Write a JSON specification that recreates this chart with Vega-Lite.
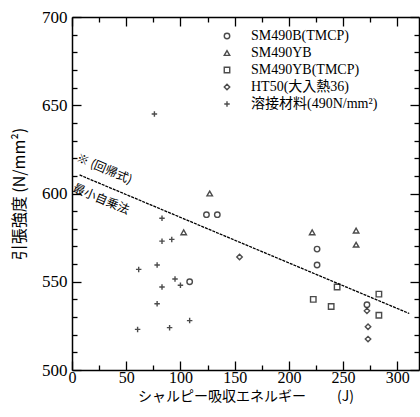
{
  "$schema": "https://vega.github.io/schema/vega-lite/v6.json",
  "width": 347,
  "height": 353,
  "autosize": {"type": "none"},
  "padding": {"left": 72, "top": 17, "right": 1, "bottom": 47},
  "background": "white",
  "config": {
    "view": {"stroke": null},
    "font": "Liberation Serif",
    "axis": {"grid": false, "domainColor": "black", "domainWidth": 1.5, "tickColor": "black", "tickWidth": 1.3, "labelColor": "black", "titleColor": "black", "labelFont": "Liberation Serif", "titleFont": "Noto Sans CJK JP"}
  },
  "datasets": {
    "pts": [
      {"s": "SM490B(TMCP)", "e": 124, "t": 588},
      {"s": "SM490B(TMCP)", "e": 134, "t": 588},
      {"s": "SM490B(TMCP)", "e": 226, "t": 568.5},
      {"s": "SM490B(TMCP)", "e": 226, "t": 559.5},
      {"s": "SM490B(TMCP)", "e": 108.5, "t": 550},
      {"s": "SM490B(TMCP)", "e": 272, "t": 537},
      {"s": "SM490YB", "e": 127, "t": 600},
      {"s": "SM490YB", "e": 103, "t": 578},
      {"s": "SM490YB", "e": 221.5, "t": 578},
      {"s": "SM490YB", "e": 262, "t": 579},
      {"s": "SM490YB", "e": 262, "t": 571},
      {"s": "SM490YB(TMCP)", "e": 244.5, "t": 547},
      {"s": "SM490YB(TMCP)", "e": 222.5, "t": 540},
      {"s": "SM490YB(TMCP)", "e": 239, "t": 536},
      {"s": "SM490YB(TMCP)", "e": 283, "t": 543},
      {"s": "SM490YB(TMCP)", "e": 283, "t": 531},
      {"s": "HT50(大入熱36)", "e": 154.5, "t": 564},
      {"s": "HT50(大入熱36)", "e": 272, "t": 533.5},
      {"s": "HT50(大入熱36)", "e": 273, "t": 524.5},
      {"s": "HT50(大入熱36)", "e": 273, "t": 517.5},
      {"s": "溶接材料(490N/mm²)", "e": 76, "t": 645},
      {"s": "溶接材料(490N/mm²)", "e": 83, "t": 586},
      {"s": "溶接材料(490N/mm²)", "e": 83, "t": 573},
      {"s": "溶接材料(490N/mm²)", "e": 92, "t": 574},
      {"s": "溶接材料(490N/mm²)", "e": 61.5, "t": 557},
      {"s": "溶接材料(490N/mm²)", "e": 78.5, "t": 559.5},
      {"s": "溶接材料(490N/mm²)", "e": 95, "t": 551.6},
      {"s": "溶接材料(490N/mm²)", "e": 100, "t": 548},
      {"s": "溶接材料(490N/mm²)", "e": 83, "t": 547},
      {"s": "溶接材料(490N/mm²)", "e": 78.5, "t": 537.5},
      {"s": "溶接材料(490N/mm²)", "e": 108.5, "t": 528},
      {"s": "溶接材料(490N/mm²)", "e": 60.5, "t": 523},
      {"s": "溶接材料(490N/mm²)", "e": 90, "t": 524}
    ],
    "fit": [
      {"e": 7, "t": 610.5},
      {"e": 311, "t": 532}
    ],
    "notes": [
      {"e": 5, "t": 620.5, "label": "※ (回帰式)"},
      {"e": 1.5, "t": 603.5, "label": "最小自乗法"}
    ]
  },
  "resolve": {"axis": {"x": "independent", "y": "independent"}},
  "layer": [
    {
      "data": {"name": "pts"},
      "mark": {"type": "point", "filled": false, "strokeWidth": 1.4, "size": 30, "color": "black"},
      "encoding": {
        "x": {"field": "e", "type": "quantitative", "scale": {"domain": [0, 320], "nice": false, "zero": false},
          "axis": {"orient": "bottom", "values": [0, 50, 100, 150, 200, 250, 300], "tickSize": -9, "labelFontSize": 16, "labelPadding": 8, "labelFlush": false,
            "title": "シャルピー吸収エネルギー　　 (J)", "titleFontSize": 14, "titleFontWeight": "normal", "titlePadding": 4}},
        "y": {"field": "t", "type": "quantitative", "scale": {"domain": [500, 700], "nice": false, "zero": false},
          "axis": {"orient": "left", "values": [500, 550, 600, 650, 700], "tickSize": -9, "labelFontSize": 17, "labelPadding": 14, "labelFlush": false,
            "title": "引張強度 (N/mm²)", "titleFontSize": 16, "titleFontWeight": "normal", "titlePadding": 14}},
        "shape": {"field": "s", "type": "nominal",
          "scale": {"domain": ["SM490B(TMCP)", "SM490YB", "SM490YB(TMCP)", "HT50(大入熱36)", "溶接材料(490N/mm²)"],
            "range": ["circle", "triangle-up", "square", "diamond", "M-1,0L1,0M0,-1L0,1"]},
          "legend": {"title": null, "orient": "none", "legendX": 148, "legendY": 12, "padding": 0, "labelFontSize": 14, "labelFont": "Liberation Serif, Noto Sans CJK JP", "labelColor": "black", "labelOffset": 17, "rowPadding": 3, "symbolSize": 30, "symbolStrokeColor": "black", "symbolStrokeWidth": 1.4, "symbolFillColor": "transparent", "labelLimit": 300}}
      }
    },
    {
      "data": {"name": "fit"},
      "mark": {"type": "line", "color": "black", "strokeWidth": 1.3, "strokeDash": [3, 1]},
      "encoding": {
        "x": {"field": "e", "type": "quantitative", "scale": {"domain": [0, 320], "nice": false, "zero": false},
          "axis": {"orient": "top", "values": [0, 25, 50, 75, 100, 125, 150, 175, 200, 225, 250, 275, 300], "tickSize": {"expr": "datum.value % 50 === 0 ? -9 : -5"}, "labels": false, "title": null}},
        "y": {"field": "t", "type": "quantitative", "scale": {"domain": [500, 700], "nice": false, "zero": false},
          "axis": {"orient": "right", "values": [500, 510, 520, 530, 540, 550, 560, 570, 580, 590, 600, 610, 620, 630, 640, 650, 660, 670, 680, 690, 700], "tickSize": {"expr": "datum.value % 50 === 0 ? -9 : -5"}, "labels": false, "title": null}}
      }
    },
    {
      "data": {"name": "pts"},
      "mark": {"type": "point", "opacity": 0},
      "encoding": {
        "x": {"field": "e", "type": "quantitative", "scale": {"domain": [0, 320], "nice": false, "zero": false},
          "axis": {"orient": "bottom", "offset": 0, "values": [25, 75, 125, 175, 225, 275], "tickSize": -5, "labels": false, "domain": false, "title": null}},
        "y": {"field": "t", "type": "quantitative", "scale": {"domain": [500, 700], "nice": false, "zero": false},
          "axis": {"orient": "left", "offset": 0, "values": [510, 520, 530, 540, 560, 570, 580, 590, 610, 620, 630, 640, 660, 670, 680, 690], "tickSize": -5, "labels": false, "domain": false, "title": null}}
      }
    },
    {
      "data": {"name": "notes"},
      "mark": {"type": "text", "align": "left", "baseline": "middle", "angle": 23, "fontSize": 12, "font": "Noto Sans CJK JP", "color": "black"},
      "encoding": {
        "x": {"field": "e", "type": "quantitative", "scale": {"domain": [0, 320], "nice": false, "zero": false}, "axis": null},
        "y": {"field": "t", "type": "quantitative", "scale": {"domain": [500, 700], "nice": false, "zero": false}, "axis": null},
        "text": {"field": "label"}
      }
    }
  ]
}
